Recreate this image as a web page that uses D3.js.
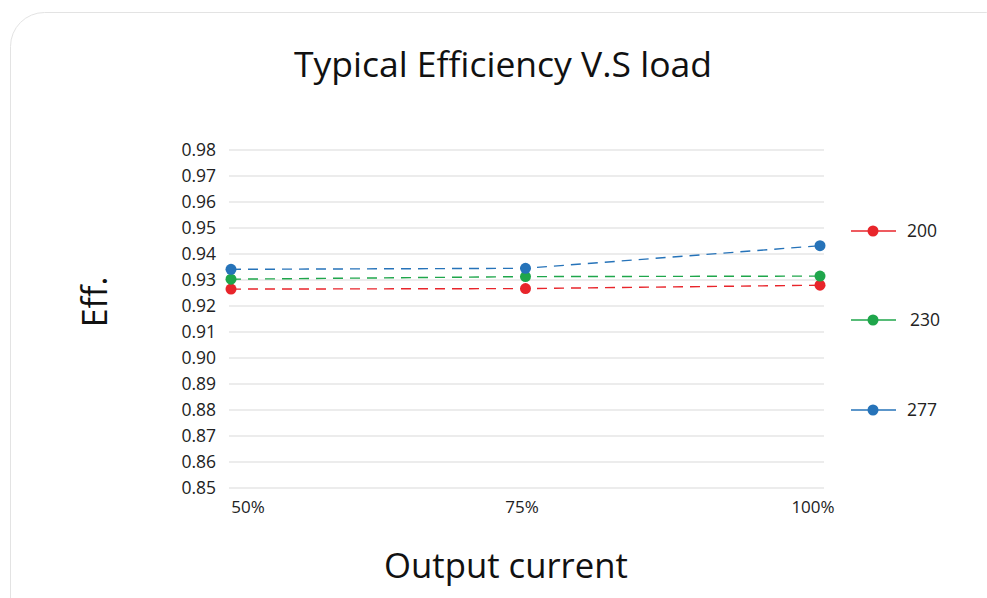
<!DOCTYPE html>
<html><head><meta charset="utf-8">
<script src="https://cdn.jsdelivr.net/npm/d3@7"></script>
<style>body{margin:0;background:#fff;}svg{display:block;font-family:"Open Sans",sans-serif;}</style>
</head><body>
<svg id="c" width="987" height="598"></svg>
<script>
const categories = ["50%", "75%", "100%"];
const seriesNames = ["200", "230", "277"];
const series200 = [0.9265, 0.9267, 0.9280];
const series230 = [0.9303, 0.9313, 0.9315];
const series277 = [0.9341, 0.9345, 0.9432];
const yTicks = [0.85,0.86,0.87,0.88,0.89,0.90,0.91,0.92,0.93,0.94,0.95,0.96,0.97,0.98];
const colors = ["#e8252b", "#1fa64b", "#2673b9"];
const allSeries = [series200, series230, series277];

const svg = d3.select("#c");
svg.append("rect").attr("x",10.5).attr("y",12.5).attr("width",1010).attr("height",620)
  .attr("rx",34).attr("fill","#fff").attr("stroke","#e3e3e3").attr("stroke-width",1);

const x = d3.scalePoint().domain(categories).range([231, 820]);
const y = d3.scaleLinear().domain([0.85, 0.98]).range([488, 150]);

const g = svg.append("g");
g.selectAll("line.grid").data(yTicks).join("line").attr("class","grid")
  .attr("x1",229).attr("x2",824).attr("y1",d=>y(d)).attr("y2",d=>y(d))
  .attr("stroke","#e6e6e6").attr("stroke-width",1.3);

const yAxis = svg.append("g").attr("transform","translate(229,0)")
  .call(d3.axisLeft(y).tickValues(yTicks).tickFormat(d3.format(".2f")).tickSize(0).tickPadding(13));
yAxis.select(".domain").remove();
yAxis.selectAll("text").attr("font-size",17.5).attr("fill","#222").attr("font-family","Open Sans, sans-serif");

const xAxis = svg.append("g").attr("transform","translate(0,497)")
  .call(d3.axisBottom(x).tickSize(0).tickPadding(4));
xAxis.select(".domain").remove();
xAxis.selectAll("text").attr("font-size",17).attr("fill","#222").attr("font-family","Open Sans, sans-serif");
xAxis.selectAll(".tick").attr("transform",(d,i)=>`translate(${[248,522,813][i]},0)`);

const line = d3.line().x((d,i)=>x(categories[i])).y(d=>y(d));
allSeries.forEach((s,k)=>{
  svg.append("path").datum(s).attr("d",line).attr("fill","none")
    .attr("stroke",colors[k]).attr("stroke-width",1.4).attr("stroke-dasharray","10,7");
});
allSeries.forEach((s,k)=>{
  svg.selectAll("circle.s"+k).data(s).join("circle").attr("class","s"+k)
    .attr("cx",(d,i)=>x(categories[i])).attr("cy",d=>y(d)).attr("r",5.5).attr("fill",colors[k]);
});

const legY = [231, 320, 410];
const legTx = [907, 910, 907];
seriesNames.forEach((n,k)=>{
  const lg = svg.append("g");
  lg.append("line").attr("x1",851).attr("x2",896).attr("y1",legY[k]).attr("y2",legY[k])
    .attr("stroke",colors[k]).attr("stroke-width",1.5);
  lg.append("circle").attr("cx",873).attr("cy",legY[k]).attr("r",5.5).attr("fill",colors[k]);
  lg.append("text").attr("x",legTx[k]).attr("y",legY[k]+6).attr("font-size",17.5).attr("fill","#222").text(n);
});

svg.append("text").attr("x",503).attr("y",77).attr("text-anchor","middle")
  .attr("font-size",35.5).attr("fill","#111").text("Typical Efficiency V.S load");
svg.append("text").attr("x",506).attr("y",578).attr("text-anchor","middle")
  .attr("font-size",34.7).attr("fill","#111").text("Output current");
svg.append("text").attr("transform","translate(107,302) rotate(-90)").attr("text-anchor","middle")
  .attr("font-size",34).attr("fill","#111").text("Eff.");
</script>
</body></html>
